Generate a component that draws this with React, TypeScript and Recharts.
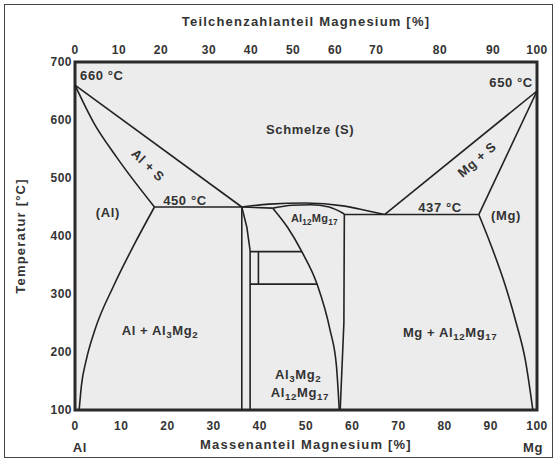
import React from 'react';
import { LineChart, Line, XAxis, YAxis, ReferenceArea, ReferenceDot } from 'recharts';

const fontFamily = '"Liberation Sans", Arial, Helvetica, sans-serif';
const ink = '#333333';

// Achsen
const massTicks = [0, 10, 20, 30, 40, 50, 60, 70, 80, 90, 100];
const atomTickPositions = [0, 9.5, 18.6, 29, 38.1, 47.2, 56.3, 65.2, 79, 90.5, 100];
const atomTickLabels = ['0', '10', '20', '30', '40', '50', '60', '70', '80', '90', '100'];
const tempTicks = [100, 200, 300, 400, 500, 600, 700];

// Phasengrenzen: x = Massenanteil Mg [%], t = Temperatur [°C]
const liquidusAl = [{ x: 0, t: 660 }, { x: 36.1, t: 450 }];
const solidusAl = [{ x: 0, t: 660 }, { x: 4, t: 596 }, { x: 9, t: 536 }, { x: 17.2, t: 450 }];
const solvusAl = [
  { x: 0.9, t: 100 }, { x: 1.4, t: 143 }, { x: 2.4, t: 185 }, { x: 4.3, t: 238 },
  { x: 8.3, t: 313 }, { x: 12.6, t: 382 }, { x: 17.2, t: 450 },
];
const eutecticAl = [{ x: 17.2, t: 450 }, { x: 36.1, t: 450 }];
const betaLeft = [{ x: 36.1, t: 450 }, { x: 36.1, t: 100 }];
const betaRight = [{ x: 36.1, t: 450 }, { x: 37.2, t: 415 }, { x: 37.9, t: 375 }, { x: 37.9, t: 100 }];
const epsilonTop = [{ x: 37.9, t: 373 }, { x: 49.1, t: 373 }];
const epsilonBottom = [{ x: 37.9, t: 317 }, { x: 52.4, t: 317 }];
const epsilonSide = [{ x: 39.7, t: 373 }, { x: 39.7, t: 317 }];
const gammaLeft = [
  { x: 42.8, t: 448 }, { x: 46, t: 415 }, { x: 49.1, t: 373 }, { x: 52.4, t: 317 },
  { x: 55.2, t: 238 }, { x: 56.6, t: 175 }, { x: 57.2, t: 100 },
];
const gammaRight = [{ x: 58.3, t: 438 }, { x: 58.2, t: 250 }, { x: 57.4, t: 100 }];
const eutecticMid = [{ x: 36.1, t: 450 }, { x: 42.8, t: 448 }];
const gammaSolidus = [{ x: 42.8, t: 448 }, { x: 47, t: 453 }, { x: 51, t: 454 }, { x: 55, t: 450 }, { x: 58.3, t: 438 }];
const liquidusMid = [
  { x: 36.1, t: 450 }, { x: 42, t: 455 }, { x: 50, t: 457 }, { x: 58, t: 452 },
  { x: 63, t: 444 }, { x: 67, t: 437 },
];
const eutecticMg = [{ x: 58.3, t: 437 }, { x: 87.4, t: 437 }];
const liquidusMg = [{ x: 67, t: 437 }, { x: 100, t: 650 }];
const solidusMg = [{ x: 87.4, t: 437 }, { x: 100, t: 650 }];
const solvusMg = [
  { x: 87.4, t: 437 }, { x: 90, t: 385 }, { x: 93, t: 318 }, { x: 95.5, t: 250 },
  { x: 97.5, t: 185 }, { x: 99.1, t: 100 },
];

const boundaries: Array<{ key: string; data: { x: number; t: number }[]; curve: 'linear' | 'monotone'; axis?: string }> = [
  { key: 'liquidusAl', data: liquidusAl, curve: 'linear', axis: 'top' },
  { key: 'solidusAl', data: solidusAl, curve: 'monotone' },
  { key: 'solvusAl', data: solvusAl, curve: 'monotone' },
  { key: 'eutecticAl', data: eutecticAl, curve: 'linear' },
  { key: 'betaLeft', data: betaLeft, curve: 'linear' },
  { key: 'betaRight', data: betaRight, curve: 'linear' },
  { key: 'epsilonTop', data: epsilonTop, curve: 'linear' },
  { key: 'epsilonBottom', data: epsilonBottom, curve: 'linear' },
  { key: 'epsilonSide', data: epsilonSide, curve: 'linear' },
  { key: 'gammaLeft', data: gammaLeft, curve: 'monotone' },
  { key: 'gammaRight', data: gammaRight, curve: 'linear' },
  { key: 'eutecticMid', data: eutecticMid, curve: 'linear' },
  { key: 'gammaSolidus', data: gammaSolidus, curve: 'monotone' },
  { key: 'liquidusMid', data: liquidusMid, curve: 'monotone' },
  { key: 'eutecticMg', data: eutecticMg, curve: 'linear' },
  { key: 'liquidusMg', data: liquidusMg, curve: 'linear' },
  { key: 'solidusMg', data: solidusMg, curve: 'linear' },
  { key: 'solvusMg', data: solvusMg, curve: 'monotone' },
];

// Beschriftungen im Diagramm ({..} = tiefgestellt)
const phaseLabels = [
  { text: '660 °C', x: 1.1, t: 676, anchor: 'start' },
  { text: '650 °C', x: 99.1, t: 664, anchor: 'end' },
  { text: 'Schmelze (S)', x: 50.9, t: 583 },
  { text: 'Al + S', x: 15.8, t: 522, angle: 44 },
  { text: 'Mg + S', x: 87, t: 532, angle: -41 },
  { text: '450 °C', x: 23.8, t: 462 },
  { text: '437 °C', x: 79, t: 450 },
  { text: '(Al)', x: 7.1, t: 441 },
  { text: '(Mg)', x: 93.3, t: 436 },
  { text: 'Al{12}Mg{17}', x: 51.8, t: 431, size: 11 },
  { text: 'Al + Al{3}Mg{2}', x: 18.4, t: 238 },
  { text: 'Mg + Al{12}Mg{17}', x: 81.2, t: 234 },
  { text: 'Al{3}Mg{2}', x: 48.3, t: 162 },
  { text: 'Al{12}Mg{17}', x: 48.7, t: 131 },
  { text: 'Al', x: -0.5, t: 36, anchor: 'start' },
  { text: 'Mg', x: 101.3, t: 36, anchor: 'end' },
];

const PhaseLabel = ({ cx, cy, text, anchor = 'middle', angle = 0, size = 13 }: any) => {
  const parts: string[] = text.split(/(\{[^}]*\})/).filter(Boolean);
  let shift = 0;
  return (
    <text
      x={cx}
      y={cy}
      dy="0.35em"
      textAnchor={anchor}
      fontSize={size}
      fontFamily={fontFamily}
      fontWeight="bold"
      letterSpacing={size < 12 ? 0.2 : 0.6}
      fill={ink}
      transform={angle ? `rotate(${angle} ${cx} ${cy})` : undefined}
    >
      {parts.map((p, i) => {
        const sub = p.startsWith('{');
        const target = sub ? 3 : 0;
        const dy = target - shift;
        shift = target;
        return (
          <tspan key={i} dy={dy !== 0 ? dy : undefined} fontSize={sub ? size * 0.75 : size}>
            {sub ? p.slice(1, -1) : p}
          </tspan>
        );
      })}
    </text>
  );
};

const tickStyle = { fill: ink, fontSize: 12, fontWeight: 'bold', fontFamily, letterSpacing: 0.5 };
const titleStyle = { fill: ink, fontSize: 13, fontWeight: 'bold', fontFamily, letterSpacing: 1.2 };

export default function App() {
  return (
    <div style={{ position: 'absolute', left: 0, top: 0, width: 560, height: 466, background: '#fff' }}>
      <div
        style={{
          position: 'absolute', left: 4, top: 4, width: 549, height: 454,
          border: '1px solid #444', boxSizing: 'border-box',
        }}
      />
      <div style={{ position: 'absolute', left: 0, top: 0 }}>
        <LineChart
          width={560}
          height={466}
          margin={{ top: 32, right: 23, bottom: 28, left: 5 }}
          style={{ fontFamily }}
        >
          <XAxis
            xAxisId={0}
            dataKey="x"
            type="number"
            domain={[0, 100]}
            ticks={massTicks}
            interval={0}
            height={28}
            axisLine={false}
            tickLine={false}
            tickSize={8}
            tickMargin={3}
            tick={tickStyle}
            label={{ value: 'Massenanteil Magnesium [%]', position: 'bottom', offset: 2, ...titleStyle }}
          />
          <XAxis
            xAxisId="top"
            orientation="top"
            dataKey="x"
            type="number"
            domain={[0, 100]}
            ticks={atomTickPositions}
            tickFormatter={(v: number, i: number) => atomTickLabels[i]}
            interval={0}
            height={30}
            axisLine={false}
            tickLine={false}
            tickSize={6}
            tickMargin={2}
            tick={tickStyle}
            label={{ value: 'Teilchenzahlanteil Magnesium [%]', position: 'top', offset: 6, ...titleStyle }}
          />
          <YAxis
            type="number"
            domain={[100, 700]}
            ticks={tempTicks}
            interval={0}
            width={70}
            axisLine={false}
            tickLine={false}
            tickSize={3}
            tickMargin={0}
            tick={tickStyle}
            label={{
              value: 'Temperatur [°C]',
              angle: -90,
              position: 'insideLeft',
              offset: 15,
              ...titleStyle,
              style: { textAnchor: 'middle' },
            }}
          />
          <ReferenceArea
            x1={0}
            x2={100}
            y1={100}
            y2={700}
            fill="#ececec"
            fillOpacity={1}
            stroke="#2a2a2a"
            strokeWidth={3}
          />
          {boundaries.map((b) => (
            <Line
              key={b.key}
              xAxisId={b.axis ?? 0}
              data={b.data}
              dataKey="t"
              type={b.curve}
              stroke="#222"
              strokeWidth={1.6}
              dot={false}
              activeDot={false}
              isAnimationActive={false}
            />
          ))}
          {phaseLabels.map((l, i) => (
            <ReferenceDot
              key={i}
              x={l.x}
              y={l.t}
              r={0}
              ifOverflow="visible"
              shape={(p: any) => <PhaseLabel cx={p.cx} cy={p.cy} {...l} />}
            />
          ))}
        </LineChart>
      </div>
    </div>
  );
}
